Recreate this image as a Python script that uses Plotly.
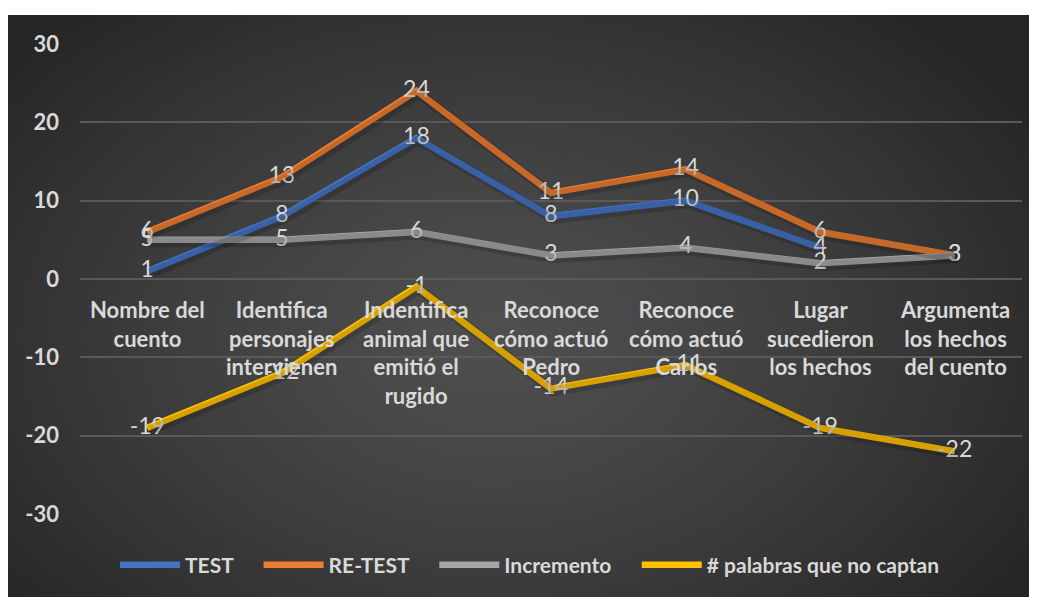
import base64, struct, zlib
import numpy as np
import plotly.graph_objects as go

categories = ["Nombre del<br>cuento", "Identifica<br>personajes<br>intervienen",
              "Indentifica<br>animal que<br>emitió el<br>rugido", "Reconoce<br>cómo actuó<br>Pedro",
              "Reconoce<br>cómo actuó<br>Carlos", "Lugar<br>sucedieron<br>los hechos",
              "Argumenta<br>los hechos<br>del cuento"]
test = [1, 8, 18, 8, 10, 4, None]
retest = [6, 13, 24, 11, 14, 6, 3]
incremento = [5, 5, 6, 3, 4, 2, 3]
palabras = [-19, -12, -1, -14, -11, -19, -22]
y_ticks = [-30, -20, -10, 0, 10, 20, 30]
y_tick_text = ["-30", "-20", "-10", "0", "10", "20", "30"]

series = [("TEST", test, "#4472C4"), ("RE-TEST", retest, "#ED7D31"),
          ("Incremento", incremento, "#A5A5A5"), ("# palabras que no captan", palabras, "#FFC000")]

# --- radial gradient background as PNG ---
W, H = 260, 146
yy, xx = np.mgrid[0:H, 0:W]
cx, cy = W * 0.47, H * 0.55
r = np.sqrt(((xx - cx) / (W * 0.62)) ** 2 + ((yy - cy) / (H * 0.75)) ** 2)
r = np.clip(r, 0, 1)
val = (79 - (79 - 38) * r ** 1.3).astype(np.uint8)
raw = b"".join(b"\x00" + bytes(np.repeat(val[j], 3).tolist()) for j in range(H))
def chunk(t, d):
    c = struct.pack(">I", len(d)) + t + d
    return c + struct.pack(">I", zlib.crc32(t + d) & 0xffffffff)
png = b"\x89PNG\r\n\x1a\n" + chunk(b"IHDR", struct.pack(">IIBBBBB", W, H, 8, 2, 0, 0, 0)) \
      + chunk(b"IDAT", zlib.compress(raw, 9)) + chunk(b"IEND", b"")
uri = "data:image/png;base64," + base64.b64encode(png).decode()

# figure sits at page offset (8, 8) because of the default body margin
FW, FH = 1029, 589
L, R, T, B = 72, 15, 36, 83
PW, PH = FW - L - R, FH - T - B

def px(xp):  # figure pixel x -> paper
    return (xp - L) / PW
def py(yp):  # figure pixel y -> paper
    return (FH - B - yp) / PH

fig = go.Figure()
x = list(range(len(categories)))

# soft shadows on offset overlay axes
dx = 2.5 / (PW / 7)
dy = 2.5 / (PH / 60)
for name, vals, col in series:
    fig.add_trace(go.Scatter(x=x, y=vals, mode="lines", line=dict(color="rgba(0,0,0,0.16)", width=10),
                             xaxis="x2", yaxis="y2", showlegend=False, hoverinfo="skip"))
for k, (name, vals, col) in enumerate(series):
    pad = "\u00a0" * 4 if k < len(series) - 1 else ""
    fig.add_trace(go.Scatter(x=x, y=vals, mode="lines", name=name + pad,
                             line=dict(color=col, width=6.5)))
# data labels on top of every line
for name, vals, col in series:
    fig.add_trace(go.Scatter(x=x, y=vals, mode="text", showlegend=False, hoverinfo="skip",
                             text=[("" if v is None else str(v)) for v in vals],
                             textposition="middle center",
                             textfont=dict(family="Lato", size=23, color="#d9d9d9")))

for i, c in enumerate(categories):
    fig.add_annotation(x=i, y=0, xref="x", yref="y", text=c, showarrow=False,
                       yanchor="top", yshift=-15,
                       font=dict(family="Lato", size=22, color="#d9d9d9", weight="bold"))

fig.add_layout_image(source=uri, xref="paper", yref="paper", x=px(0), y=py(7),
                     sizex=FW / PW, sizey=(FH - 7) / PH, sizing="stretch",
                     xanchor="left", yanchor="top", layer="below")

fig.update_layout(
    width=FW, height=FH, margin=dict(l=L, r=R, t=T, b=B),
    paper_bgcolor="white", plot_bgcolor="rgba(0,0,0,0)",
    showlegend=True,
    legend=dict(orientation="h", x=px(522), xanchor="center", y=py(557), yanchor="middle",
                font=dict(family="Lato", size=21, color="#d9d9d9", weight="bold"),
                itemwidth=60, bgcolor="rgba(0,0,0,0)"),
    xaxis=dict(range=[-0.5, 6.5], showgrid=False, zeroline=False, showticklabels=False, fixedrange=True),
    yaxis=dict(range=[-30, 30], tickvals=y_ticks, ticktext=y_tick_text, showgrid=True,
               gridcolor="#595959", gridwidth=1.5, zeroline=False,
               tickfont=dict(family="Lato", size=22, color="#d9d9d9", weight="bold"),
               ticklabelstandoff=20),
    xaxis2=dict(range=[-0.5 - dx, 6.5 - dx], overlaying="x", visible=False),
    yaxis2=dict(range=[-30 + dy, 30 + dy], overlaying="y", visible=False),
)

fig.write_html("out.html")
